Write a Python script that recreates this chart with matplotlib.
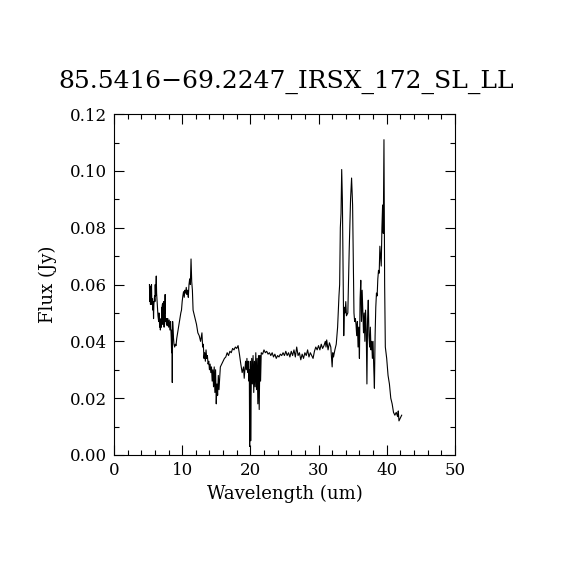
import numpy as np
import matplotlib
matplotlib.use("Agg")
import matplotlib.pyplot as plt
from matplotlib.ticker import MultipleLocator

# ------------------------------------------------------------------
# spectrum (wavelength in um, flux in Jy)
# ------------------------------------------------------------------
wavelength = [
    5.20, 5.25, 5.30, 5.35, 5.40, 5.45, 5.50, 5.55, 5.60, 5.70, 5.75, 5.80, 5.85, 5.95,
    6.00, 6.05, 6.10, 6.20, 6.25, 6.30, 6.40, 6.45, 6.55, 6.60, 6.70, 6.75, 6.80, 6.90,
    6.95, 7.00, 7.05, 7.10, 7.15, 7.20, 7.25, 7.30, 7.35, 7.40, 7.45, 7.50, 7.55, 7.60,
    7.70, 7.75, 7.80, 7.90, 8.00, 8.10, 8.20, 8.30, 8.40, 8.45, 8.50, 8.55, 8.60, 8.70,
    8.80, 8.90, 9.00, 9.10, 9.20, 9.40, 9.60, 9.80, 9.90, 10.00, 10.10, 10.20, 10.30,
    10.40, 10.50, 10.60, 10.70, 10.80, 10.90, 11.00, 11.10, 11.20, 11.30, 11.40, 11.50,
    11.60, 11.70, 11.90, 12.10, 12.30, 12.50, 12.70, 12.90, 13.00, 13.10, 13.20, 13.30,
    13.40, 13.50, 13.60, 13.70, 13.80, 13.90, 14.00, 14.10, 14.20, 14.30, 14.40, 14.50,
    14.60, 14.70, 14.80, 14.90, 15.00, 15.10, 15.20, 15.30, 15.40, 15.60, 15.80, 16.00,
    16.20, 16.40, 16.60, 16.80, 17.00, 17.20, 17.40, 17.60, 17.80, 18.00, 18.20, 18.40,
    18.60, 18.80, 19.00, 19.10, 19.20, 19.30, 19.40, 19.50, 19.60, 19.70, 19.80, 19.85,
    19.90, 20.00, 20.05, 20.10, 20.20, 20.30, 20.40, 20.50, 20.60, 20.70, 20.80, 20.90,
    21.00, 21.10, 21.20, 21.30, 21.40, 21.50, 21.60, 21.80, 22.00, 22.20, 22.40, 22.60,
    22.80, 23.00, 23.20, 23.40, 23.60, 23.80, 24.00, 24.20, 24.40, 24.60, 24.80, 25.00,
    25.20, 25.40, 25.60, 25.80, 26.00, 26.20, 26.40, 26.60, 26.80, 27.00, 27.20, 27.40,
    27.60, 27.80, 28.00, 28.20, 28.40, 28.60, 28.80, 29.00, 29.20, 29.40, 29.60, 29.80,
    30.00, 30.20, 30.40, 30.60, 30.80, 31.00, 31.10, 31.20, 31.40, 31.60, 31.80, 32.00,
    32.10, 32.20, 32.40, 32.60, 32.80, 33.00, 33.10, 33.20, 33.30, 33.40, 33.50, 33.60,
    33.70, 33.80, 33.90, 34.00, 34.10, 34.30, 34.50, 34.70, 34.85, 35.00, 35.10, 35.20,
    35.30, 35.40, 35.50, 35.60, 35.70, 35.80, 35.90, 36.00, 36.10, 36.20, 36.30, 36.40,
    36.50, 36.60, 36.70, 36.80, 36.90, 37.00, 37.10, 37.20, 37.30, 37.40, 37.50, 37.60,
    37.70, 37.80, 37.90, 38.00, 38.10, 38.20, 38.30, 38.40, 38.50, 38.60, 38.70, 38.80,
    38.90, 39.00, 39.10, 39.20, 39.30, 39.40, 39.50, 39.60, 39.70, 39.80, 40.00, 40.20,
    40.40, 40.60, 40.80, 41.00, 41.20, 41.40, 41.60, 41.70, 41.80, 42.00, 42.20,
]
flux = [
    0.0600, 0.0540, 0.0595, 0.0530, 0.0580, 0.0545, 0.0600, 0.0530, 0.0550, 0.0510, 0.0540, 0.0480, 0.0530, 0.0560,
    0.0540, 0.0600, 0.0560, 0.0630, 0.0570, 0.0550, 0.0510, 0.0490, 0.0470, 0.0500, 0.0450, 0.0480, 0.0440, 0.0470,
    0.0450, 0.0520, 0.0470, 0.0530, 0.0460, 0.0535, 0.0470, 0.0540, 0.0450, 0.0520, 0.0500, 0.0565, 0.0470, 0.0480,
    0.0460, 0.0480, 0.0455, 0.0480, 0.0450, 0.0475, 0.0440, 0.0470, 0.0410, 0.0360, 0.0440, 0.0255, 0.0470, 0.0420,
    0.0390, 0.0380, 0.0390, 0.0385, 0.0410, 0.0440, 0.0470, 0.0500, 0.0510, 0.0540, 0.0560, 0.0575, 0.0555,
    0.0580, 0.0570, 0.0590, 0.0565, 0.0580, 0.0555, 0.0600, 0.0620, 0.0600, 0.0690, 0.0610, 0.0580,
    0.0510, 0.0500, 0.0480, 0.0460, 0.0430, 0.0420, 0.0400, 0.0430, 0.0380, 0.0390, 0.0340, 0.0360,
    0.0330, 0.0370, 0.0340, 0.0350, 0.0320, 0.0330, 0.0300, 0.0320, 0.0290, 0.0310, 0.0260, 0.0300,
    0.0240, 0.0310, 0.0220, 0.0300, 0.0180, 0.0250, 0.0210, 0.0280, 0.0230, 0.0310, 0.0320, 0.0330,
    0.0340, 0.0345, 0.0360, 0.0350, 0.0365, 0.0360, 0.0375, 0.0370, 0.0380, 0.0375, 0.0385, 0.0355,
    0.0320, 0.0290, 0.0310, 0.0270, 0.0300, 0.0330, 0.0300, 0.0340, 0.0290, 0.0330, 0.0260, 0.0300,
    0.0030, 0.0330, 0.0050, 0.0200, 0.0340, 0.0250, 0.0350, 0.0220, 0.0330, 0.0240, 0.0360, 0.0230,
    0.0340, 0.0180, 0.0350, 0.0160, 0.0350, 0.0260, 0.0360, 0.0355, 0.0370, 0.0360, 0.0365, 0.0355,
    0.0360, 0.0350, 0.0360, 0.0345, 0.0355, 0.0340, 0.0350, 0.0345, 0.0355, 0.0350, 0.0360, 0.0350,
    0.0365, 0.0350, 0.0360, 0.0345, 0.0365, 0.0350, 0.0370, 0.0345, 0.0380, 0.0350, 0.0360, 0.0335,
    0.0355, 0.0340, 0.0360, 0.0350, 0.0370, 0.0345, 0.0360, 0.0350, 0.0340, 0.0365, 0.0380, 0.0370,
    0.0385, 0.0370, 0.0390, 0.0375, 0.0385, 0.0400, 0.0380, 0.0405, 0.0370, 0.0395, 0.0380, 0.0310,
    0.0360, 0.0345, 0.0370, 0.0390, 0.0450, 0.0560, 0.0600, 0.0800, 0.0850, 0.1005, 0.0900, 0.0650,
    0.0420, 0.0520, 0.0500, 0.0540, 0.0490, 0.0500, 0.0720, 0.0900, 0.0975, 0.0880, 0.0700, 0.0500,
    0.0470, 0.0480, 0.0460, 0.0420, 0.0470, 0.0380, 0.0450, 0.0340, 0.0550, 0.0615, 0.0470, 0.0580,
    0.0500, 0.0430, 0.0500, 0.0400, 0.0510, 0.0440, 0.0250, 0.0480, 0.0545, 0.0420, 0.0380, 0.0450,
    0.0370, 0.0400, 0.0340, 0.0400, 0.0310, 0.0235, 0.0420, 0.0520, 0.0570, 0.0560, 0.0620, 0.0650,
    0.0640, 0.0735, 0.0700, 0.0665, 0.0800, 0.0880, 0.0780, 0.1110, 0.0600, 0.0380, 0.0340, 0.0280,
    0.0250, 0.0200, 0.0180, 0.0150, 0.0140, 0.0150, 0.0135, 0.0155, 0.0120, 0.0130, 0.0140,
]

plot_title = "85.5416\u221269.2247_IRSX_172_SL_LL"
x_label = "Wavelength (um)"
y_label = "Flux (Jy)"

font_name = "DejaVu Serif"

fig = plt.figure(figsize=(5.7, 5.7), dpi=100)
ax = fig.add_axes([0.2, 0.2018, 0.598, 0.598])

ax.plot(wavelength, flux, c="black", linewidth=0.8)

ax.set_xlim(0, 50)
ax.set_ylim(0, 0.12)
ax.xaxis.set_major_locator(MultipleLocator(10))
ax.xaxis.set_minor_locator(MultipleLocator(2))
ax.yaxis.set_major_locator(MultipleLocator(0.02))
ax.yaxis.set_minor_locator(MultipleLocator(0.01))
ax.yaxis.set_major_formatter(plt.FuncFormatter(lambda v, p: "{:.2f}".format(v)))

ax.tick_params(which="both", direction="in", top=True, right=True, width=0.8)
ax.tick_params(which="major", length=7, labelsize=12, pad=5)
ax.tick_params(which="minor", length=3.5)
for lab in ax.get_xticklabels() + ax.get_yticklabels():
    lab.set_family(font_name)
for sp in ax.spines.values():
    sp.set_linewidth(0.8)

ax.set_xlabel(x_label, family=font_name, fontsize=13, labelpad=4)
ax.set_ylabel(y_label, family=font_name, fontsize=13, labelpad=9)
fig.text(0.502, 0.856, plot_title, family=font_name, fontsize=18, ha="center", va="center")

fig.savefig("out.png", dpi=100)
